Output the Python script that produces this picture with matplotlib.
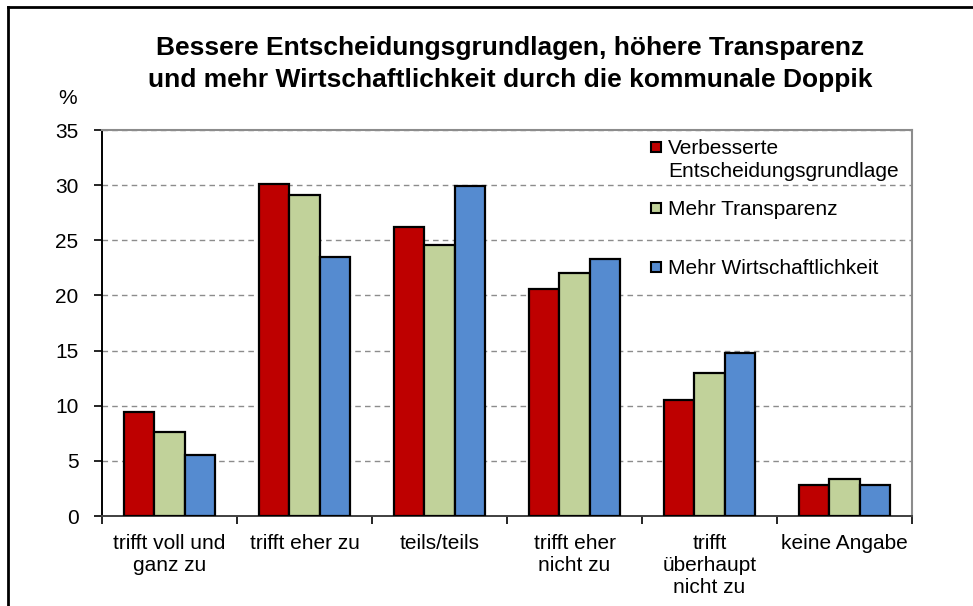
import matplotlib
matplotlib.use("Agg")
import matplotlib.pyplot as plt
import numpy as np
from matplotlib.lines import Line2D
from matplotlib.patches import Rectangle

plt.rcParams["font.family"] = ["Liberation Sans", "DejaVu Sans"]

# ---------- data ----------
categories = ["trifft voll und\nganz zu", "trifft eher zu", "teils/teils",
              "trifft eher\nnicht zu", "trifft\nüberhaupt\nnicht zu", "keine Angabe"]
entscheidung = [9.4, 30.1, 26.2, 20.6, 10.5, 2.8]
transparenz = [7.65, 29.1, 24.6, 22.0, 13.0, 3.4]
wirtschaft = [5.5, 23.5, 29.9, 23.3, 14.8, 2.8]
series_labels = ["Verbesserte\nEntscheidungsgrundlage", "Mehr Transparenz",
                 "Mehr Wirtschaftlichkeit"]
colors = ["#BE0000", "#C1D29A", "#558BD0"]

W, H = 973, 606
fig = plt.figure(figsize=(W / 100, H / 100), dpi=100)

def fx(x):
    return x / W

def fy(y):
    return 1 - y / H

ax = fig.add_axes([fx(102), fy(516), fx(912) - fx(102), fy(130) - fy(516)])

x = np.arange(len(categories))
bw = 0.227
for i, (vals, col) in enumerate(zip([entscheidung, transparenz, wirtschaft], colors)):
    ax.bar(x + (i - 1) * bw, vals, width=bw, color=col, edgecolor="black",
           linewidth=1.6, zorder=3)

ax.set_xlim(-0.5, len(categories) - 0.5)
ax.set_ylim(0, 35)
ax.set_yticks(range(0, 36, 5))
ax.yaxis.grid(True, linestyle=(0, (4, 3)), color="#8c8c8c", linewidth=1.0, zorder=0)
ax.tick_params(axis="y", direction="out", length=6, width=1.2, pad=11, labelsize=15)

ax.set_xticks(x)
ax.set_xticklabels(categories, fontsize=15, linespacing=1.2)
ax.set_xticks(np.arange(-0.5, len(categories)), minor=True)
ax.tick_params(axis="x", which="major", length=0, pad=13)
ax.tick_params(axis="x", which="minor", direction="out", length=6, width=1.2)

for side in ["top", "right"]:
    ax.spines[side].set_color("#8c8c8c")
    ax.spines[side].set_linewidth(1.5)
ax.spines["left"].set_color("black")
ax.spines["left"].set_linewidth(1.4)
ax.spines["bottom"].set_color("#404040")
ax.spines["bottom"].set_linewidth(1.4)

# title and unit
fig.text(fx(510), fy(64), "Bessere Entscheidungsgrundlagen, höhere Transparenz\n"
         "und mehr Wirtschaftlichkeit durch die kommunale Doppik",
         ha="center", va="center", fontsize=19, fontweight="bold", linespacing=1.4)
fig.text(fx(68), fy(98), "%", ha="center", va="center", fontsize=15)

# legend drawn like the original (no frame, gridlines show through)
legend_rows = [147, 208, 267]
for lab, col, yy in zip(series_labels, colors, legend_rows):
    fig.patches.append(Rectangle((fx(651), fy(yy + 5)), fx(10), 10 / H,
                                 transform=fig.transFigure, facecolor=col,
                                 edgecolor="black", linewidth=1.5))
    fig.text(fx(668), fy(yy - 8), lab, ha="left", va="top", fontsize=15,
             linespacing=1.25)

# outer frame (left and top edges of the original chart border)
fig.add_artist(Line2D([fx(8), fx(8)], [fy(7), 0], color="black", linewidth=2,
                      transform=fig.transFigure))
fig.add_artist(Line2D([fx(8), 1], [fy(7), fy(7)], color="black", linewidth=2,
                      transform=fig.transFigure))

fig.savefig("out.png", dpi=100)
